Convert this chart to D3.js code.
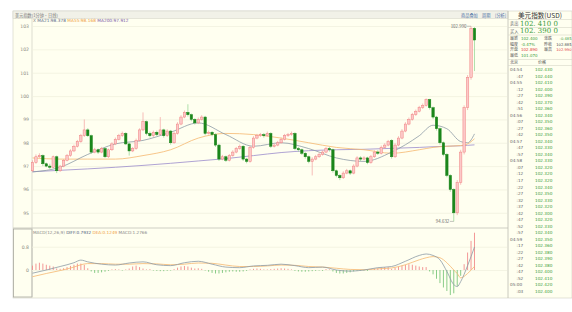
<!DOCTYPE html>
<html>
<head>
<meta charset="utf-8">
<script src="https://cdn.jsdelivr.net/npm/d3@7"></script>
<style>
body{margin:0;background:#fff;}
svg{display:block;font-family:"Noto Sans CJK SC","DejaVu Sans",sans-serif;}
</style>
</head>
<body>
<svg id="chart" width="572" height="312"></svg>
<script>
/************************************************************/
/**
    data
*/
const opens = [96.80,97.15,97.40,97.45,97.10,97.00,96.95,97.40,96.80,97.00,
 97.25,97.45,97.65,97.85,98.05,98.30,98.55,98.30,97.60,97.70,
 97.60,97.75,97.40,97.70,97.95,98.15,98.30,98.40,97.95,97.65,
 97.75,98.10,98.55,98.90,98.40,98.30,98.45,98.35,98.55,98.30,
 98.50,98.00,98.40,98.80,99.10,99.30,99.20,99.00,98.85,99.00,
 99.10,98.40,98.45,98.35,97.90,97.30,97.40,97.25,97.45,97.60,
 97.75,97.85,97.30,97.20,97.80,98.20,98.30,98.35,98.30,98.40,
 97.85,97.90,98.00,98.15,98.30,98.35,98.40,97.75,97.70,97.55,
 97.40,97.20,97.30,97.40,97.50,97.60,97.75,97.70,96.80,96.60,
 96.50,96.70,96.80,96.70,97.00,97.35,97.30,97.35,97.15,97.40,
 97.60,97.55,97.80,97.90,98.10,97.40,97.90,98.20,98.50,98.80,
 99.00,99.20,99.35,99.50,99.60,99.85,99.50,99.10,98.60,98.00,
 97.50,96.60,96.00,95.00,96.30,97.60,99.50,100.80,102.90];
const highs = [97.25,97.50,97.55,97.50,97.15,97.10,97.45,97.45,97.05,97.30,
 97.52,97.72,97.92,98.12,98.38,99.00,98.62,98.35,97.78,97.75,
 97.82,97.80,97.75,98.02,98.22,98.38,98.48,98.45,98.00,97.82,
 98.18,98.62,99.30,98.95,98.48,98.52,98.52,99.10,98.60,98.58,
 98.55,98.48,98.88,99.18,99.38,99.65,99.25,99.05,99.08,99.18,
 99.15,98.52,98.50,98.40,97.95,97.48,97.45,97.52,97.68,97.82,
 97.92,97.90,97.35,97.88,98.28,98.38,98.42,98.42,98.48,98.45,
 97.98,98.08,98.22,98.38,98.42,98.48,98.45,97.82,97.75,97.60,
 97.45,97.38,97.48,97.58,97.68,97.82,97.82,97.75,96.85,96.65,
 96.78,96.88,96.85,97.08,97.42,97.42,97.42,97.40,97.48,97.68,
 97.68,97.88,97.98,98.12,98.15,97.98,98.28,98.58,98.88,99.08,
 99.28,99.42,99.58,99.68,99.90,99.88,99.55,99.15,98.65,98.05,
 97.55,96.65,96.05,96.40,97.70,99.60,100.90,102.99,102.95];
const lows = [96.75,97.10,97.35,97.00,96.95,96.88,96.90,96.70,96.75,96.95,
 97.20,97.40,97.60,97.80,98.00,98.25,98.25,97.52,97.55,97.52,
 97.55,97.35,97.35,97.65,97.90,98.10,98.25,97.90,97.45,97.60,
 97.70,98.05,98.50,98.32,98.22,98.25,98.28,98.30,98.22,98.25,
 97.92,97.95,98.35,98.75,99.05,99.12,98.92,98.78,98.80,98.95,
 98.32,98.35,98.28,97.82,97.22,97.25,97.18,97.20,97.40,97.55,
 97.70,97.22,97.12,97.15,97.75,98.15,98.25,98.22,98.25,97.78,
 97.80,97.85,97.95,98.10,98.25,98.30,97.68,97.62,97.48,97.32,
 97.12,96.60,97.25,97.35,97.45,97.55,97.62,96.72,96.52,96.40,
 96.45,96.65,96.62,96.65,96.95,97.22,97.25,97.08,97.10,97.35,
 97.48,97.50,97.75,97.85,97.32,97.35,97.85,98.15,98.45,98.75,
 98.95,99.15,99.30,99.45,99.55,99.42,99.02,98.52,97.92,97.42,
 96.52,95.90,94.632,94.90,96.20,97.50,99.40,100.70,101.07];
const closes = [97.15,97.40,97.45,97.10,97.00,96.95,97.40,96.80,97.00,97.25,
 97.45,97.65,97.85,98.05,98.30,98.55,98.30,97.60,97.70,97.60,
 97.75,97.40,97.70,97.95,98.15,98.30,98.40,97.95,97.65,97.75,
 98.10,98.55,98.90,98.40,98.30,98.45,98.35,98.55,98.30,98.50,
 98.00,98.40,98.80,99.10,99.30,99.20,99.00,98.85,99.00,99.10,
 98.40,98.45,98.35,97.90,97.30,97.40,97.25,97.45,97.60,97.75,
 97.85,97.30,97.20,97.80,98.20,98.30,98.35,98.30,98.40,97.85,
 97.90,98.00,98.15,98.30,98.35,98.40,97.75,97.70,97.55,97.40,
 97.20,97.30,97.40,97.50,97.60,97.75,97.70,96.80,96.60,96.50,
 96.70,96.80,96.70,97.00,97.35,97.30,97.35,97.15,97.40,97.60,
 97.55,97.80,97.90,98.05,97.40,97.90,98.20,98.50,98.80,99.00,
 99.20,99.35,99.50,99.60,99.85,99.50,99.10,98.60,98.00,97.50,
 96.60,96.00,95.00,96.30,97.60,99.50,100.80,102.90,102.40];

// moving averages, read at these candle positions
const maIdx = [0,8,16,24,32,40,48,56,64,72,80,88,96,104,112,116,120,124,126,128];
const ma21  = [96.75,96.95,97.50,97.95,98.10,98.45,98.85,98.35,97.85,98.00,97.75,97.35,97.20,97.60,98.30,98.75,98.60,98.05,98.00,98.38];
const ma55  = [97.35,97.30,97.30,97.30,97.45,97.70,98.20,98.40,98.35,98.20,98.00,97.80,97.70,97.55,97.70,97.80,97.85,97.88,97.95,98.17];
const ma200 = [96.76,96.82,96.88,96.95,97.03,97.12,97.22,97.32,97.45,97.58,97.66,97.70,97.72,97.76,97.80,97.83,97.85,97.87,97.89,97.91];

// MACD
const macdIdx = [0,4,8,12,14,16,20,24,28,32,36,40,44,48,52,56,60,64,68,72,76,80,84,88,92,96,100,104,108,112,114,116,118,120,122,123,124,126,128];
const diffs = [-0.11,0.00,0.12,0.25,0.34,0.28,0.20,0.17,0.24,0.28,0.18,0.15,0.25,0.30,0.20,0.10,0.08,0.14,0.16,0.20,0.15,0.08,0.10,0.00,-0.04,0.00,0.08,0.12,0.30,0.50,0.55,0.50,0.35,-0.05,-0.50,-0.57,-0.40,0.15,0.79];
const deas  = [-0.23,-0.12,-0.02,0.10,0.18,0.22,0.22,0.20,0.20,0.22,0.21,0.18,0.20,0.24,0.23,0.17,0.12,0.12,0.14,0.17,0.16,0.12,0.10,0.06,0.02,0.01,0.04,0.07,0.18,0.35,0.42,0.46,0.42,0.25,0.00,-0.12,-0.27,-0.12,0.125];
const hist = [0.15,0.22,0.25,0.22,0.18,0.15,0.12,
 0.05,0.04,0.06,0.10,0.14,0.18,0.22,0.22,
 0.18,0.06,-0.05,
 -0.10,-0.10,-0.08,-0.06,-0.03,
 0.02,0.03,0.02,-0.02,
 0.02,0.05,0.12,0.15,
 0.10,0.05,0.02,0.03,
 -0.02,-0.03,-0.04,-0.04,-0.03,-0.02,
 0.03,0.08,0.12,0.14,0.12,0.08,0.05,0.06,0.04,-0.02,
 -0.06,-0.10,-0.12,-0.12,-0.10,-0.08,-0.06,-0.05,-0.06,-0.06,-0.05,-0.03,
 0.02,0.04,0.05,0.04,0.02,0.02,0.03,0.04,0.05,0.06,0.05,0.04,0.02,
 -0.03,-0.05,-0.06,-0.06,-0.05,-0.04,-0.03,-0.02,-0.01,0.01,0.00,
 -0.05,-0.10,-0.12,-0.12,-0.10,-0.08,-0.05,-0.03,-0.02,-0.02,
 -0.01,0.02,0.04,0.06,0.08,0.10,0.10,0.04,
 0.08,0.12,0.15,0.18,0.20,0.18,0.15,0.12,0.10,0.10,
 -0.05,-0.15,-0.30,-0.45,-0.60,-0.72,-0.86,-0.80,
 -0.55,-0.20,0.20,0.60,1.00,1.28];

const priceTicks = [95,96,97,98,99,100,101,102,103];
const macdTicks = [0, 0.8];

// quote panel
const tickTimes  = ['04:54',':47','04:55',':12',':27',':42',':51','04:56',':07',':27',':42','04:57',':47',':57','04:58',':07',':12',':17',':22',':27',':32',':37',':42',':47',':52',':57','04:59',':17',':22',':27',':42',':47',':52','05:00',':03'];
const tickPrices = ['102.430','102.440','102.410','102.400','102.390','102.370','102.360','102.340','102.350','102.360','102.350','102.340','102.330','102.340','102.330','102.320','102.320','102.320','102.340','102.350','102.330','102.320','102.300','102.320','102.330','102.340','102.350','102.360','102.380','102.390','102.380','102.400','102.410','102.420','102.400'];

/************************************************************/
/**
    layout + scales
*/
const svg = d3.select('#chart');
const plot = { l: 32, r: 507, t: 19, b: 227 };
const sub = { t: 229, b: 297 };
const side = 508;
const GREEN = '#3c9c3c', RED = '#e23c3c';

const x = d3.scaleBand().domain(d3.range(closes.length)).range([31.3, 475.7]).paddingInner(0.3);
const cx = i => x(i) + x.bandwidth() / 2;
const y = d3.scaleLinear().domain([95, 103]).range([212.8, 26]);
const ym = d3.scaleLinear().domain([0, 0.8]).range([270, 246.7]);

// backgrounds / frames
svg.append('rect').attr('x', 13).attr('y', 11).attr('width', 559).attr('height', 287)
    .attr('fill', '#fffff0').attr('stroke', '#cfcfc4').attr('stroke-width', 0.6);
svg.append('rect').attr('x', 13).attr('y', 11).attr('width', 495).attr('height', 7.5)
    .attr('fill', '#f1f1e8').attr('stroke', '#cfcfc4').attr('stroke-width', 0.5);
svg.append('line').attr('x1', 13).attr('x2', side).attr('y1', 228).attr('y2', 228)
    .attr('stroke', '#cfcfc4').attr('stroke-width', 1.2);
svg.append('rect').attr('x', 13.5).attr('y', sub.t).attr('width', 18.5).attr('height', sub.b - sub.t)
    .attr('fill', 'none').attr('stroke', '#a8a8a0').attr('stroke-width', 0.8);
svg.append('line').attr('x1', plot.l).attr('x2', plot.l).attr('y1', plot.t).attr('y2', sub.b)
    .attr('stroke', '#c8c8be').attr('stroke-width', 0.6);
svg.append('line').attr('x1', side).attr('x2', side).attr('y1', 11).attr('y2', 298)
    .attr('stroke', '#bdbdb2').attr('stroke-width', 0.8);

// toolbar texts
svg.append('text').attr('x', 15).attr('y', 16.6).attr('font-size', 4.2).attr('fill', '#777')
    .text('美元指数(1分钟·日线)');
[['商品叠加', 461], ['周期', 482], ['[分析]', 495]].forEach(d => {
    svg.append('text').attr('x', d[1]).attr('y', 16.6).attr('font-size', 4.2).attr('fill', '#4a6fa5').text(d[0]);
});

/************************************************************/
/**
    main panel
*/
const grid = svg.append('g').attr('transform', `translate(${plot.l},0)`)
    .call(d3.axisLeft(y).tickValues(priceTicks).tickSize(-(plot.r - plot.l)).tickFormat(d3.format('d')));
grid.select('.domain').remove();
grid.selectAll('line').attr('stroke', '#efefdc').attr('stroke-width', 0.7);
grid.selectAll('text').attr('x', -3).attr('font-size', 4.6).attr('fill', '#8a8a80').attr('font-family', 'DejaVu Sans');

// MA lines
const maLine = d3.line().x((d, k) => cx(maIdx[k])).y(d => y(d)).curve(d3.curveMonotoneX);
[[ma200, '#9a8ccb'], [ma55, '#f5b870'], [ma21, '#8d9ba6']].forEach(d => {
    svg.append('path').attr('d', maLine(d[0])).attr('fill', 'none').attr('stroke', d[1]).attr('stroke-width', 0.8);
});

// candles
const candles = svg.append('g').selectAll('g').data(closes).join('g');
candles.append('line')
    .attr('x1', (d, i) => cx(i)).attr('x2', (d, i) => cx(i))
    .attr('y1', (d, i) => y(highs[i])).attr('y2', (d, i) => y(lows[i]))
    .attr('stroke', (d, i) => d >= opens[i] ? '#f3a0a0' : '#8fd28f').attr('stroke-width', 0.7);
candles.append('rect')
    .attr('x', (d, i) => x(i)).attr('width', x.bandwidth())
    .attr('y', (d, i) => y(Math.max(d, opens[i])))
    .attr('height', (d, i) => Math.max(0.7, Math.abs(y(d) - y(opens[i]))))
    .attr('fill', (d, i) => d >= opens[i] ? '#fcc8c8' : '#1b861b')
    .attr('stroke', (d, i) => d >= opens[i] ? '#f08080' : '#1b861b')
    .attr('stroke-width', 0.5);

// high / low labels
const hi = d3.maxIndex(highs), lo = d3.minIndex(lows);
svg.append('line').attr('x1', cx(hi) - 4).attr('x2', cx(hi)).attr('y1', y(highs[hi])).attr('y2', y(highs[hi]))
    .attr('stroke', '#888').attr('stroke-width', 0.5);
svg.append('text').attr('x', cx(hi) - 4.5).attr('y', y(highs[hi]) + 1.5).attr('text-anchor', 'end')
    .attr('font-size', 4.4).attr('fill', '#666').text(d3.format('.3f')(highs[hi]));
svg.append('line').attr('x1', cx(lo) - 4).attr('x2', cx(lo)).attr('y1', y(lows[lo])).attr('y2', y(lows[lo]))
    .attr('stroke', '#888').attr('stroke-width', 0.5);
svg.append('text').attr('x', cx(lo) - 4.5).attr('y', y(lows[lo]) + 1.5).attr('text-anchor', 'end')
    .attr('font-size', 4.4).attr('fill', '#666').text(d3.format('.3f')(lows[lo]));

// MA legend
const leg = svg.append('text').attr('x', 33).attr('y', 22).attr('font-size', 4.3).attr('font-family', 'DejaVu Sans');
leg.append('tspan').attr('fill', '#888').text('X ');
leg.append('tspan').attr('fill', '#5a6a8a').text('MA21:' + d3.format('.3f')(98.378) + ' ');
leg.append('tspan').attr('fill', '#f0a040').text('MA55:' + d3.format('.3f')(98.168) + ' ');
leg.append('tspan').attr('fill', '#7a5aa8').text('MA200:' + d3.format('.3f')(97.912));

/************************************************************/
/**
    MACD panel
*/
const mgrid = svg.append('g').attr('transform', `translate(${plot.l},0)`)
    .call(d3.axisLeft(ym).tickValues(macdTicks).tickSize(-(plot.r - plot.l)).tickFormat(d => d === 0 ? '0' : d3.format('.1f')(d)));
mgrid.select('.domain').remove();
mgrid.selectAll('line').attr('stroke', '#efefdc').attr('stroke-width', 0.7);
mgrid.selectAll('text').attr('x', -3).attr('font-size', 4.6).attr('fill', '#8a8a80').attr('font-family', 'DejaVu Sans');

svg.append('g').selectAll('line').data(hist).join('line')
    .attr('x1', (d, i) => cx(i)).attr('x2', (d, i) => cx(i))
    .attr('y1', ym(0)).attr('y2', d => ym(d) + (Math.abs(d) < 0.02 ? (d < 0 ? 0.6 : -0.6) : 0))
    .attr('stroke', d => d >= 0 ? '#f28c8c' : '#7cc67c').attr('stroke-width', 0.9);

const mLine = d3.line().x((d, k) => cx(macdIdx[k])).y(d => ym(d)).curve(d3.curveMonotoneX);
svg.append('path').attr('d', mLine(deas)).attr('fill', 'none').attr('stroke', '#f5b870').attr('stroke-width', 0.8);
svg.append('path').attr('d', mLine(diffs)).attr('fill', 'none').attr('stroke', '#8d9ba6').attr('stroke-width', 0.8);

const mleg = svg.append('text').attr('x', 33).attr('y', 233.5).attr('font-size', 4.2).attr('font-family', 'DejaVu Sans');
mleg.append('tspan').attr('fill', '#888').text('MACD(12,26,9) ');
mleg.append('tspan').attr('fill', '#4a5a7a').text('DIFF:0.7932 ');
mleg.append('tspan').attr('fill', '#f0a040').text('DEA:0.1249 ');
mleg.append('tspan').attr('fill', '#888').text('MACD:1.2766');

/************************************************************/
/**
    quote panel
*/
const q = svg.append('g');
q.append('text').attr('x', 540).attr('y', 17.5).attr('text-anchor', 'middle').attr('font-size', 6.6)
    .attr('fill', '#333').attr('font-family', 'Noto Sans CJK SC').text('美元指数(USD)');
[19.5, 27.5, 35, 59.5, 65.5].forEach(v => {
    q.append('line').attr('x1', side).attr('x2', 572).attr('y1', v).attr('y2', v)
        .attr('stroke', '#d6d6c8').attr('stroke-width', 0.6);
});
[['卖出', '102. 410 0', 25.8], ['买入', '102. 390 0', 33.3]].forEach(d => {
    q.append('text').attr('x', 510).attr('y', d[2] - 0.5).attr('font-size', 4.2).attr('fill', '#666').text(d[0]);
    q.append('text').attr('x', 520).attr('y', d[2]).attr('font-size', 7).attr('fill', GREEN)
        .attr('font-family', 'DejaVu Serif').text(d[1]);
});
const info = [
    ['最新', '102.400', GREEN, '涨跌', '-0.485', GREEN],
    ['幅度', '-0.47%', GREEN, '昨收', '102.885', '#444'],
    ['开盘', '102.890', RED, '最高', '102.990', RED],
    ['最低', '101.070', GREEN, '', '', '#444']
];
info.forEach((d, k) => {
    const yy = 40 + k * 5.6;
    q.append('text').attr('x', 510).attr('y', yy).attr('font-size', 4).attr('fill', '#555').text(d[0]);
    q.append('text').attr('x', 521).attr('y', yy).attr('font-size', 4).attr('fill', d[2]).attr('font-family', 'DejaVu Sans').text(d[1]);
    q.append('text').attr('x', 544).attr('y', yy).attr('font-size', 4).attr('fill', '#555').text(d[3]);
    q.append('text').attr('x', 571.5).attr('y', yy).attr('text-anchor', 'end').attr('font-size', 3.7)
        .attr('fill', d[5]).attr('font-family', 'DejaVu Sans').text(d[4]);
});
q.append('text').attr('x', 510).attr('y', 64).attr('font-size', 4).attr('fill', '#555').text('北京');
q.append('text').attr('x', 538).attr('y', 64).attr('font-size', 4).attr('fill', '#555').text('价格');

const rowY = d3.scaleLinear().domain([0, tickTimes.length - 1]).range([71, 293]);
tickTimes.forEach((t, k) => {
    q.append('text').attr('x', t.length > 3 ? 510 : 516.5).attr('y', rowY(k)).attr('font-size', 4.2)
        .attr('fill', '#666').attr('font-family', 'DejaVu Sans').text(t);
    q.append('text').attr('x', 535).attr('y', rowY(k)).attr('font-size', 4.2)
        .attr('fill', GREEN).attr('font-family', 'DejaVu Sans').text(tickPrices[k]);
});
</script>
</body>
</html>
